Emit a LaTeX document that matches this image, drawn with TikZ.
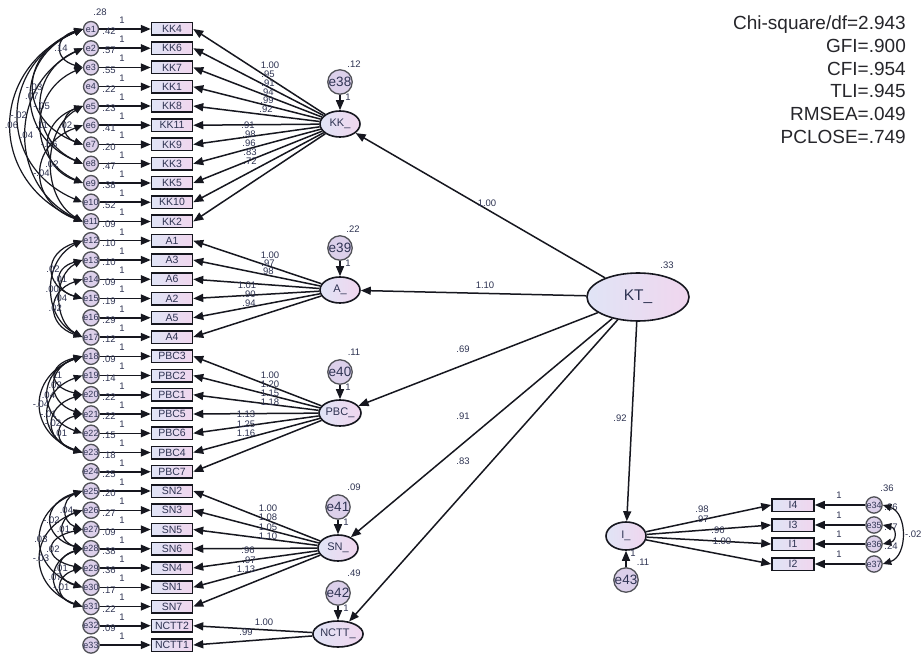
\documentclass[tikz,border=0pt]{standalone}
\usepackage{fontspec}
\setmainfont{Liberation Sans}
\usetikzlibrary{arrows.meta,shapes.geometric}
\definecolor{ink}{HTML}{16171F}
\definecolor{txt}{HTML}{2E3352}
\definecolor{boxL}{HTML}{E0E4F6}
\definecolor{boxR}{HTML}{F0D6EE}
\definecolor{errfill}{HTML}{DCD0EA}
\definecolor{fittxt}{HTML}{26262B}
% covariance arc between two error terms, bulging to the left
\newcommand{\covarc}[4]{%
  \pgfmathsetmacro\covt{(#2-#1)*4}%
  \draw[cov] (e#1.west) .. controls +(-#3,-\covt) and +(-#3,\covt) .. (e#2.west)
    node[lbl,pos=0.5]{#4};}
\begin{document}
\begin{tikzpicture}[x=1pt,y=1pt,
  lbl/.style={font=\fontsize{9.5}{10}\selectfont, text=txt, inner sep=0pt},
  ind/.style={draw=ink, line width=1.5pt, left color=boxL, right color=boxR,
    minimum width=41pt, minimum height=12.5pt, inner sep=0pt,
    font=\fontsize{10.5}{11}\selectfont, text=txt},
  err/.style={circle, draw=ink!75, line width=1.3pt, fill=errfill, minimum size=15pt,
    inner sep=0pt, font=\fontsize{9}{9}\selectfont, text=txt},
  lerr/.style={err, minimum size=21pt, font=\fontsize{13.5}{14}\selectfont},
  lat/.style={ellipse, draw=ink, line width=1.6pt, left color=boxL, right color=boxR,
    minimum width=40pt, minimum height=26pt, inner sep=0pt,
    font=\fontsize{11}{12}\selectfont, text=txt},
  reg/.style={-{Triangle[length=10pt,width=8pt]}, line width=1.5pt, draw=ink},
  cov/.style={{Triangle[length=8.5pt,width=7pt]}-{Triangle[length=8.5pt,width=7pt]},
    line width=1.2pt, draw=ink},
  fit/.style={anchor=base east, font=\fontsize{19}{22}\selectfont, text=fittxt, inner sep=0pt}
]
\fill[white] (0,0) rectangle (921,-655);
\useasboundingbox (0,0) rectangle (921,-655);

% observed indicators with their error terms
\foreach \i/\nm/\v [count=\k] in {
  0/KK4/.42, 1/KK6/.57, 2/KK7/.55, 3/KK1/.22, 4/KK8/.23, 5/KK11/.41,
  6/KK9/.20, 7/KK3/.47, 8/KK5/.38, 9/KK10/.52, 10/KK2/.09,
  11/A1/.10, 12/A3/.10, 13/A6/.09, 14/A2/.19, 15/A5/.29, 16/A4/.12,
  17/PBC3/.09, 18/PBC2/.14, 19/PBC1/.22, 20/PBC5/.22, 21/PBC6/.15, 22/PBC4/.18, 23/PBC7/.25,
  24/SN2/.20, 25/SN3/.27, 26/SN5/.09, 27/SN6/.38, 28/SN4/.36, 29/SN1/.17, 30/SN7/.22,
  31/NCTT2/.09, 32/NCTT1/{}} {
  \pgfmathsetmacro\yy{-(29+19.25*\i)}
  \node[ind] (x\k) at (172,\yy) {\nm};
  \node[err] (e\k) at (91,\yy) {e\k};
  \draw[reg] (e\k) -- (x\k);
  \node[lbl] at (122,\yy+9) {1};
  \node[lbl] at (109,\yy-2.5) {\v};
}
\node[lbl] at (100,-12) {.28};

% latent factors
\node[lat] (KK) at (340,-124) {KK\_};
\node[lat] (A) at (340,-290) {A\_};
\node[lat, minimum width=42pt] (PBC) at (340,-413) {PBC\_};
\node[lat] (SN) at (338,-548) {SN\_};
\node[lat, minimum width=44pt] (NCTT) at (338,-634) {NCTT\_};
\node[lat, minimum width=102pt, minimum height=48pt, font=\fontsize{15.5}{16}\selectfont] (KT) at (638,-297) {KT\_};
\node[lat, minimum height=28pt] (I) at (626,-536) {I\_};

% disturbance terms
\node[lerr] (e38) at (340,-82) {e38};
\node[lerr] (e39) at (340,-248) {e39};
\node[lerr] (e40) at (340,-372) {e40};
\node[lerr] (e41) at (338,-507) {e41};
\node[lerr] (e42) at (338,-593) {e42};
\node[lerr] (e43) at (626,-580) {e43};
\foreach \d/\f in {e38/KK, e39/A, e40/PBC, e41/SN, e42/NCTT, e43/I}
  \draw[reg] (\d) -- (\f);
\foreach \x/\y in {348/97, 348/263, 348/387, 346/522, 346/608}
  \node[lbl] at (\x,-\y) {1};
\node[lbl] at (633,-553) {1};
\node[lbl] at (354,-64) {.12};
\node[lbl] at (353,-229) {.22};
\node[lbl] at (354,-352) {.11};
\node[lbl] at (354,-487) {.09};
\node[lbl] at (354,-573) {.49};
\node[lbl] at (643,-562) {.11};
\node[lbl] at (667,-265) {.33};

% factor loadings
\foreach \k in {1,...,11} \draw[reg] (KK) -- (x\k.east);
\foreach \k in {12,...,17} \draw[reg] (A) -- (x\k.east);
\foreach \k in {18,...,24} \draw[reg] (PBC) -- (x\k.east);
\foreach \k in {25,...,31} \draw[reg] (SN) -- (x\k.east);
\foreach \k in {32,33} \draw[reg] (NCTT) -- (x\k.east);

\foreach \t/\x/\y in {
  1.00/270/65, .95/268/74, .91/268/83, .94/267/92, .99/267/100, .92/266/109,
  .91/248/125, .98/249/134, .96/249/143, .83/250/152, .72/250/161,
  1.00/270/255, .97/268/263, .98/267/271, 1.01/247/285, .90/249/294, .94/249/303,
  1.00/270/375, 1.20/270/384, 1.15/270/393, 1.18/270/402, 1.13/246/414, 1.25/246/424, 1.16/246/433,
  1.00/268/508, 1.08/268/517, 1.05/268/527, 1.10/268/536, .96/248/550, .97/249/560, 1.13/246/569,
  1.00/264/622, .99/246/632}
  \node[lbl] at (\x,-\y) {\t};

% structural paths
\draw[reg] (KT) -- (KK);
\draw[reg] (KT) -- (A);
\draw[reg] (KT) -- (PBC);
\draw[reg] (KT) -- (SN);
\draw[reg] (KT) -- (NCTT);
\draw[reg] (KT) -- (I);
\node[lbl] at (487,-203) {1.00};
\node[lbl] at (485,-285) {1.10};
\node[lbl] at (463,-349) {.69};
\node[lbl] at (463,-416) {.91};
\node[lbl] at (463,-461) {.83};
\node[lbl] at (620,-418) {.92};

% indicators of I_
\foreach \nm/\y/\k/\v in {I4/505/34/.26, I3/525/35/.47, I1/544/36/.24, I2/564/37/{}} {
  \node[ind, minimum width=42pt] (x\k) at (793,-\y) {\nm};
  \node[err] (e\k) at (874,-\y) {e\k};
  \draw[reg] (e\k) -- (x\k);
  \draw[reg] (I) -- (x\k.west);
  \node[lbl] at (839,-\y+10) {1};
  \node[lbl] at (891,-\y-2) {\v};
}
\node[lbl] at (887,-488) {.36};
\node[lbl] at (702,-509) {.98};
\node[lbl] at (702,-519) {.97};
\node[lbl] at (718,-530) {.96};
\node[lbl] at (722,-541) {1.00};
\draw[cov] (e34.east) .. controls +(25,-8) and +(25,8) .. (e37.east)
  node[lbl,pos=0.5,right=3pt]{-.02};
\draw[cov] (e35.east) .. controls +(14,-3) and +(14,3) .. (e36.east);

% error covariances
\covarc{1}{11}{95}{.06}
\covarc{1}{10}{85}{-.02}
\covarc{2}{11}{75}{.04}
\covarc{1}{8}{68}{.07}
\covarc{1}{7}{65}{-.03}
\covarc{2}{8}{55}{-.05}
\covarc{3}{9}{55}{.11}
\covarc{5}{7}{23}{.02}
\covarc{1}{3}{29}{.14}
\covarc{5}{9}{45}{-.06}
\covarc{5}{11}{41}{.02}
\covarc{6}{11}{55}{-.04}

\covarc{12}{17}{40}{.00}
\covarc{12}{15}{39}{.02}
\covarc{13}{15}{29}{.01}
\covarc{13}{17}{29}{.04}
\covarc{14}{17}{36}{.02}

\covarc{18}{20}{35}{.11}
\covarc{18}{21}{36}{.02}
\covarc{18}{22}{45}{.04}
\covarc{18}{23}{55}{-.04}
\covarc{19}{23}{45}{-.01}
\covarc{20}{23}{39}{-.02}
\covarc{21}{23}{29}{.01}

\covarc{25}{27}{21}{.04}
\covarc{25}{28}{41}{-.02}
\covarc{26}{28}{25}{.01}
\covarc{25}{30}{55}{.03}
\covarc{27}{29}{39}{.02}
\covarc{26}{31}{55}{-.03}
\covarc{28}{30}{28}{.01}
\covarc{28}{31}{36}{.07}
\covarc{29}{31}{28}{-.01}

% model fit
\node[fit] (fit1) at (906,-29.5) {Chi-square/df=2.943};
\node[fit] (fit2) at (906,-52.5) {GFI=.900};
\node[fit] (fit3) at (906,-75.5) {CFI=.954};
\node[fit] (fit4) at (906,-98) {TLI=.945};
\node[fit] (fit5) at (906,-121) {RMSEA=.049};
\node[fit] (fit6) at (906,-143.5) {PCLOSE=.749};
\end{tikzpicture}
\end{document}
